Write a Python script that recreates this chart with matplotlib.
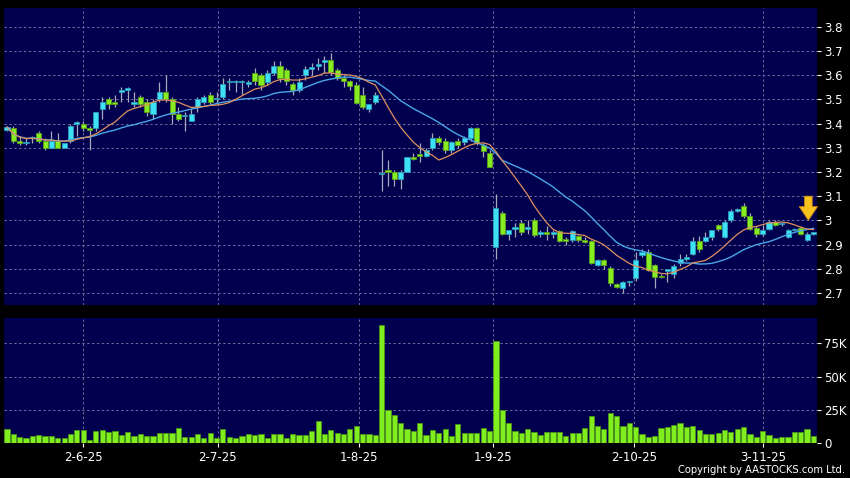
import matplotlib
matplotlib.use('Agg')
import matplotlib.pyplot as plt
import numpy as np
import pandas as pd

# daily OHLC (HKD)
OPEN = [3.375, 3.38, 3.33, 3.32, 3.34, 3.36, 3.33, 3.30, 3.33, 3.30,
        3.33, 3.40, 3.40, 3.38, 3.38, 3.46, 3.50, 3.49, 3.53, 3.54,
        3.48, 3.51, 3.49, 3.44, 3.50, 3.53, 3.50, 3.44, 3.43, 3.41,
        3.47, 3.49, 3.52, 3.50, 3.51, 3.57, 3.57, 3.57, 3.565, 3.61,
        3.60, 3.57, 3.61, 3.64, 3.62, 3.565, 3.54, 3.60, 3.625, 3.64,
        3.655, 3.665, 3.62, 3.59, 3.575, 3.56, 3.52, 3.46, 3.49, 3.19,
        3.21, 3.20, 3.17, 3.20, 3.26, 3.275, 3.265, 3.30, 3.34, 3.33,
        3.29, 3.33, 3.325, 3.34, 3.38, 3.31, 3.28, 2.89, 3.03, 2.945,
        2.965, 2.99, 2.965, 3.00, 2.945, 2.95, 2.945, 2.955, 2.92, 2.92,
        2.935, 2.92, 2.915, 2.815, 2.835, 2.805, 2.735, 2.72, 2.745, 2.76,
        2.855, 2.87, 2.815, 2.77, 2.79, 2.78, 2.825, 2.84, 2.86, 2.915,
        2.915, 2.93, 2.98, 2.93, 3.00, 3.04, 3.06, 3.02, 2.97, 2.945,
        2.965, 2.995, 2.985, 2.93, 2.96, 2.97, 2.92, 2.945]
HIGH = [3.39, 3.39, 3.35, 3.34, 3.35, 3.37, 3.34, 3.37, 3.36, 3.32,
        3.40, 3.41, 3.41, 3.39, 3.45, 3.51, 3.51, 3.52, 3.55, 3.55,
        3.53, 3.52, 3.50, 3.50, 3.57, 3.60, 3.51, 3.47, 3.45, 3.46,
        3.51, 3.52, 3.53, 3.53, 3.59, 3.59, 3.58, 3.58, 3.58, 3.63,
        3.61, 3.62, 3.66, 3.66, 3.63, 3.57, 3.59, 3.64, 3.65, 3.67,
        3.68, 3.69, 3.63, 3.60, 3.58, 3.57, 3.55, 3.48, 3.53, 3.29,
        3.25, 3.21, 3.21, 3.26, 3.28, 3.32, 3.30, 3.36, 3.35, 3.34,
        3.33, 3.34, 3.35, 3.385, 3.385, 3.32, 3.29, 3.11, 3.04, 2.96,
        2.99, 3.00, 3.00, 3.01, 2.96, 2.975, 2.96, 2.96, 2.93, 2.96,
        2.94, 2.93, 2.92, 2.84, 2.84, 2.81, 2.74, 2.75, 2.75, 2.87,
        2.88, 2.88, 2.82, 2.78, 2.80, 2.82, 2.86, 2.86, 2.93, 2.935,
        2.95, 2.96, 2.985, 3.00, 3.045, 3.05, 3.07, 3.03, 2.975, 2.98,
        3.00, 3.00, 2.99, 2.965, 2.97, 2.975, 2.95, 2.95]
LOW = [3.37, 3.32, 3.31, 3.31, 3.32, 3.32, 3.29, 3.30, 3.30, 3.30,
       3.32, 3.35, 3.37, 3.29, 3.37, 3.42, 3.46, 3.47, 3.49, 3.49,
       3.47, 3.47, 3.43, 3.42, 3.49, 3.49, 3.40, 3.41, 3.37, 3.41,
       3.45, 3.48, 3.48, 3.48, 3.50, 3.54, 3.53, 3.52, 3.55, 3.56,
       3.54, 3.56, 3.60, 3.57, 3.56, 3.52, 3.53, 3.58, 3.60, 3.62,
       3.61, 3.60, 3.58, 3.55, 3.54, 3.48, 3.46, 3.45, 3.48, 3.12,
       3.14, 3.14, 3.13, 3.20, 3.25, 3.24, 3.26, 3.29, 3.31, 3.28,
       3.28, 3.30, 3.31, 3.33, 3.31, 3.26, 3.22, 2.84, 2.94, 2.92,
       2.93, 2.94, 2.945, 2.93, 2.93, 2.92, 2.925, 2.91, 2.90, 2.91,
       2.91, 2.905, 2.82, 2.81, 2.80, 2.73, 2.72, 2.70, 2.73, 2.75,
       2.85, 2.79, 2.72, 2.76, 2.745, 2.76, 2.81, 2.83, 2.855, 2.87,
       2.91, 2.92, 2.955, 2.925, 2.995, 3.035, 3.01, 2.96, 2.93, 2.935,
       2.96, 2.975, 2.975, 2.925, 2.955, 2.94, 2.915, 2.94]
CLOSE = [3.385, 3.33, 3.32, 3.32, 3.34, 3.33, 3.30, 3.33, 3.30, 3.32,
         3.39, 3.40, 3.38, 3.375, 3.45, 3.49, 3.48, 3.48, 3.54, 3.54,
         3.49, 3.48, 3.45, 3.49, 3.53, 3.50, 3.44, 3.42, 3.43, 3.44,
         3.50, 3.51, 3.49, 3.505, 3.565, 3.57, 3.57, 3.57, 3.57, 3.575,
         3.56, 3.61, 3.64, 3.59, 3.575, 3.54, 3.57, 3.625, 3.635, 3.64,
         3.665, 3.615, 3.59, 3.575, 3.555, 3.485, 3.47, 3.48, 3.52, 3.19,
         3.20, 3.17, 3.20, 3.26, 3.255, 3.265, 3.29, 3.34, 3.325, 3.29,
         3.325, 3.31, 3.34, 3.38, 3.32, 3.285, 3.22, 3.05, 2.945, 2.96,
         2.97, 2.95, 2.97, 2.94, 2.95, 2.945, 2.95, 2.915, 2.915, 2.955,
         2.92, 2.91, 2.825, 2.835, 2.815, 2.74, 2.725, 2.745, 2.75, 2.835,
         2.87, 2.795, 2.765, 2.765, 2.797, 2.81, 2.84, 2.85, 2.915, 2.88,
         2.93, 2.96, 2.965, 2.995, 3.04, 3.045, 3.02, 2.965, 2.945, 2.96,
         2.995, 2.98, 2.985, 2.96, 2.96, 2.945, 2.945, 2.945]
# daily volume, thousands of shares
VOLUME_K = [10.75, 7, 4.5, 4, 5, 6.25, 5, 5, 3.5, 3.5,
            7, 9.5, 10, 2, 9.25, 10, 8.25, 9, 5.75, 8.25,
            5.5, 6.75, 5, 5, 7.5, 7.5, 7.5, 11.5, 4.5, 4.5,
            6.75, 3.75, 7.75, 3.75, 10.75, 4.75, 3.75, 5.5, 7, 6.25,
            7, 4, 6.5, 6.5, 3.75, 6.75, 6, 6, 8.75, 16.75,
            6.75, 9.5, 7.5, 7, 10.75, 12.75, 6.75, 6.75, 5.75, 88.75,
            25, 21, 15.25, 10.75, 9.25, 15, 6.25, 9.75, 7.75, 10.75,
            5.5, 14, 7.25, 7.25, 7.75, 11.5, 9.25, 76.75, 24.5, 15.25,
            9.25, 7.75, 10.5, 8.25, 6.25, 8.5, 8.5, 8, 5.5, 7.25,
            7.5, 11.5, 20.5, 12.5, 10.5, 22.5, 20.5, 12.75, 14.75, 12,
            6.5, 4.25, 5, 11.5, 12, 13.25, 14.75, 12, 13, 9.75,
            6.5, 6.75, 7.75, 10, 8.5, 10.5, 11.75, 7, 4.5, 9,
            6, 3.5, 4.25, 4.25, 8.25, 8.25, 10.75, 5]

DATE_LABELS = ['2-6-25', '2-7-25', '1-8-25', '1-9-25', '2-10-25', '3-11-25']
DATE_POS = [12, 33.2, 55.5, 76.6, 98.7, 119.1]
PRICE_TICKS = [2.7, 2.8, 2.9, 3.0, 3.1, 3.2, 3.3, 3.4, 3.5, 3.6, 3.7, 3.8]
PRICE_LABELS = ['2.7', '2.8', '2.9', '3', '3.1', '3.2', '3.3', '3.4', '3.5', '3.6', '3.7', '3.8']
VOL_TICKS = [0, 25, 50, 75]
VOL_LABELS = ['0', '25K', '50K', '75K']

BG = '#00004f'
UP = '#3ee0f4'
UP_EDGE = '#2a9ab8'
DOWN = '#86ec22'
DOWN_EDGE = '#5a9e1a'
WICK = '#a8a8b8'
GRID = '#6c6c9c'


def style_axis(ax):
    ax.set_facecolor(BG)
    for s in ax.spines.values():
        s.set_visible(False)
    ax.yaxis.tick_right()
    ax.tick_params(axis='y', colors='white', labelsize=8.5, length=3, width=0.8, pad=2)
    ax.tick_params(axis='x', colors='white', labelsize=8.5, length=3, width=0.8, pad=3)
    ax.grid(True, color=GRID, linestyle=(0, (2.5, 2.5)), linewidth=0.7)
    ax.set_axisbelow(True)


def main():
    o = np.array(OPEN)
    h = np.array(HIGH)
    l = np.array(LOW)
    c = np.array(CLOSE)
    x = np.arange(len(c))

    fig = plt.figure(figsize=(8.5, 4.78), dpi=100, facecolor='black')
    ax = fig.add_axes([4 / 850, 1 - 305 / 478, 813 / 850, 297 / 478])
    axv = fig.add_axes([4 / 850, 1 - 443 / 478, 813 / 850, 125 / 478], sharex=ax)

    style_axis(ax)
    style_axis(axv)

    # candles
    up = c >= o
    ax.vlines(x, l, h, color=WICK, linewidth=0.9, zorder=2)
    body = np.maximum(np.abs(c - o), 0.006)
    bottom = np.minimum(o, c)
    ax.bar(x[up], body[up], bottom=bottom[up], width=0.8,
           color=UP, edgecolor=UP_EDGE, linewidth=0.6, zorder=3)
    ax.bar(x[~up], body[~up], bottom=bottom[~up], width=0.8,
           color=DOWN, edgecolor=DOWN_EDGE, linewidth=0.6, zorder=3)

    # moving averages
    close_s = pd.Series(c)
    ma10 = close_s.rolling(10, min_periods=1).mean()
    ma20 = close_s.rolling(20, min_periods=1).mean()
    ax.plot(x, ma20, color='#4aa6e6', linewidth=1.0, zorder=4)
    ax.plot(x, ma10, color='#e0905e', linewidth=0.9, zorder=4)

    # marker arrow over the latest bars
    tip = h[-3:].max() + 0.025
    ax.annotate('', xy=(len(c) - 1.8, tip), xytext=(len(c) - 1.8, tip + 0.1),
                arrowprops=dict(arrowstyle='simple,head_width=1.2,head_length=0.9,tail_width=0.5',
                                facecolor='#f6c21c', edgecolor='#c88410', linewidth=0.6,
                                shrinkA=0, shrinkB=0, mutation_scale=11),
                zorder=6)

    ax.set_ylim(2.650, 3.878)
    ax.set_yticks(PRICE_TICKS)
    ax.set_yticklabels(PRICE_LABELS)
    ax.set_xlim(-0.47, len(c) - 0.44)
    ax.set_xticks(DATE_POS)
    ax.tick_params(axis='x', length=0, labelbottom=False)

    # volume
    axv.bar(x, VOLUME_K, width=0.82, color='#80ee1e', edgecolor='#4c9a12', linewidth=0.5, zorder=3)
    axv.set_ylim(0, 94)
    axv.set_yticks(VOL_TICKS)
    axv.set_yticklabels(VOL_LABELS)
    axv.set_xticks(DATE_POS)
    axv.set_xticklabels(DATE_LABELS)

    fig.text(0.994, 0.006, 'Copyright by AASTOCKS.com Ltd.', color='white',
             fontsize=7.2, ha='right', va='bottom')

    fig.savefig('out.png', dpi=100, facecolor='black')


if __name__ == '__main__':
    main()
